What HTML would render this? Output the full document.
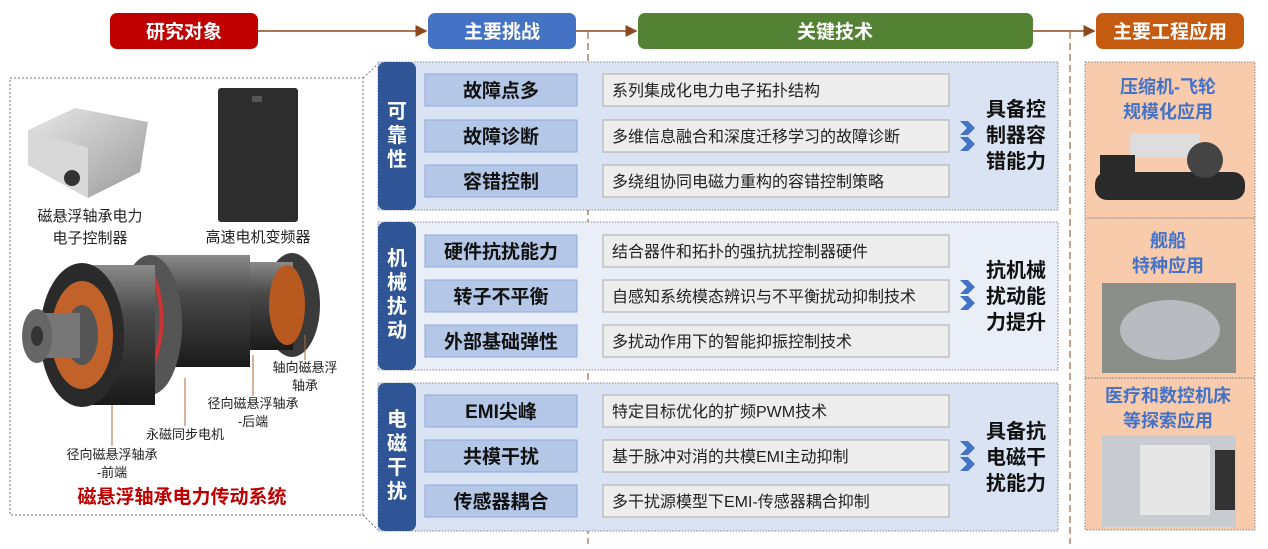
<!DOCTYPE html>
<html><head><meta charset="utf-8"><style>
body{margin:0;background:#fff;}
svg text{font-family:"Liberation Sans","Noto Sans CJK SC",sans-serif;}
</style></head><body>
<svg width="1268" height="544" viewBox="0 0 1268 544" xmlns="http://www.w3.org/2000/svg">
<defs>
<marker id="ar" markerWidth="8" markerHeight="8" refX="7" refY="4" orient="auto"><path d="M0,0 L8,4 L0,8 Z" fill="#8b4a1e"/></marker>
<linearGradient id="motor" x1="0" y1="0" x2="0" y2="1"><stop offset="0" stop-color="#8a8a8a"/><stop offset=".35" stop-color="#4a4a4a"/><stop offset="1" stop-color="#1a1a1a"/></linearGradient>
<linearGradient id="ctl" x1="0" y1="0" x2="1" y2="1"><stop offset="0" stop-color="#e8e8e8"/><stop offset="1" stop-color="#9a9a9a"/></linearGradient>
</defs>
<line x1="258" y1="31" x2="426" y2="31" stroke="#8b4a1e" stroke-width="1.5" marker-end="url(#ar)"/>
<line x1="576" y1="31" x2="636" y2="31" stroke="#8b4a1e" stroke-width="1.5" marker-end="url(#ar)"/>
<line x1="1033" y1="31" x2="1094" y2="31" stroke="#8b4a1e" stroke-width="1.5" marker-end="url(#ar)"/>
<rect x="110" y="13" width="148" height="36" rx="7" fill="#c00000"/>
<text x="184" y="38" fill="#fff" font-size="19" font-weight="bold" text-anchor="middle">研究对象</text>
<rect x="428" y="13" width="148" height="36" rx="7" fill="#4472c4"/>
<text x="502" y="38" fill="#fff" font-size="19" font-weight="bold" text-anchor="middle">主要挑战</text>
<rect x="638" y="13" width="395" height="36" rx="7" fill="#548235"/>
<text x="835" y="38" fill="#fff" font-size="19" font-weight="bold" text-anchor="middle">关键技术</text>
<rect x="1096" y="13" width="148" height="36" rx="7" fill="#c55a11"/>
<text x="1170" y="38" fill="#fff" font-size="19" font-weight="bold" text-anchor="middle">主要工程应用</text>
<line x1="588" y1="32" x2="588" y2="544" stroke="#8b4a1e" stroke-width="1" stroke-dasharray="7,4"/>
<line x1="1070" y1="32" x2="1070" y2="544" stroke="#8b4a1e" stroke-width="1" stroke-dasharray="7,4"/>

<rect x="10" y="78" width="353" height="437" fill="#fff" stroke="#777" stroke-dasharray="2,2"/>
<line x1="363" y1="78" x2="378" y2="64" stroke="#777" stroke-dasharray="2,2"/>
<line x1="363" y1="515" x2="378" y2="530" stroke="#777" stroke-dasharray="2,2"/>
<polygon points="28,130 75,108 148,122 140,172 88,198 28,165" fill="url(#ctl)"/>
<polygon points="28,130 88,148 88,198 28,165" fill="#d8d8d8"/>
<circle cx="72" cy="178" r="8" fill="#333"/>
<rect x="218" y="88" width="80" height="134" rx="3" fill="#2d2d2d"/>
<rect x="252" y="96" width="10" height="6" fill="#555"/>
<text x="90" y="221" font-size="15" text-anchor="middle" fill="#222">磁悬浮轴承电力</text>
<text x="90" y="243" font-size="15" text-anchor="middle" fill="#222">电子控制器</text>
<text x="258" y="242" font-size="15" text-anchor="middle" fill="#222">高速电机变频器</text>
<!-- motor -->
<ellipse cx="292" cy="305" rx="28" ry="52" fill="#3a3a3a"/>
<rect x="225" y="262" width="68" height="88" fill="url(#motor)"/>
<ellipse cx="287" cy="305" rx="18" ry="40" fill="#b85a20"/>
<rect x="150" y="255" width="100" height="112" fill="url(#motor)"/>
<ellipse cx="150" cy="325" rx="32" ry="70" fill="#555"/>
<path d="M140 278 Q162 322 140 378" stroke="#3366dd" stroke-width="8" fill="none"/>
<path d="M152 272 Q172 322 150 372" stroke="#cc3333" stroke-width="4" fill="none"/>
<rect x="80" y="265" width="75" height="140" fill="url(#motor)"/>
<ellipse cx="82" cy="335" rx="42" ry="72" fill="#2a2a2a"/>
<ellipse cx="82" cy="335" rx="31" ry="54" fill="#c0622a"/>
<ellipse cx="82" cy="335" rx="16" ry="30" fill="#555"/>
<rect x="35" y="313" width="45" height="45" fill="#777"/>
<ellipse cx="37" cy="336" rx="15" ry="27" fill="#666"/>
<ellipse cx="37" cy="336" rx="6" ry="10" fill="#333"/>
<g stroke="#b06a3a" stroke-width="1"><line x1="305" y1="335" x2="305" y2="360"/><line x1="253" y1="355" x2="253" y2="396"/><line x1="185" y1="378" x2="185" y2="426"/><line x1="112" y1="405" x2="112" y2="446"/></g>
<g font-size="13" fill="#222" text-anchor="middle">
<text x="305" y="372">轴向磁悬浮</text><text x="305" y="390">轴承</text>
<text x="253" y="408">径向磁悬浮轴承</text><text x="253" y="426">-后端</text>
<text x="185" y="439">永磁同步电机</text>
<text x="112" y="459">径向磁悬浮轴承</text><text x="112" y="477">-前端</text>
</g>
<text x="182" y="503" font-size="19" font-weight="bold" fill="#c00000" text-anchor="middle">磁悬浮轴承电力传动系统</text>

<rect x="378" y="62" width="680" height="148" fill="#dae3f3" stroke="#888" stroke-dasharray="1.5,1.5"/>
<rect x="378" y="222" width="680" height="148" fill="#e9eef7" stroke="#888" stroke-dasharray="1.5,1.5"/>
<rect x="378" y="383" width="680" height="148" fill="#dae3f3" stroke="#888" stroke-dasharray="1.5,1.5"/>
<rect x="378" y="62" width="38" height="148" rx="7" fill="#2f5597"/>
<rect x="378" y="222" width="38" height="148" rx="7" fill="#2f5597"/>
<rect x="378" y="383" width="38" height="148" rx="7" fill="#2f5597"/>
<g font-size="20" font-weight="bold" fill="#fff" text-anchor="middle">
<text x="397" y="118">可</text><text x="397" y="142">靠</text><text x="397" y="166">性</text>
<text x="397" y="265">机</text><text x="397" y="289">械</text><text x="397" y="313">扰</text><text x="397" y="337">动</text>
<text x="397" y="426">电</text><text x="397" y="450">磁</text><text x="397" y="474">干</text><text x="397" y="498">扰</text>
</g>
<g fill="#b4c7e7" stroke="#8faadc">
<rect x="425" y="74" width="152" height="32"/><rect x="425" y="120" width="152" height="32"/><rect x="425" y="165" width="152" height="32"/>
<rect x="425" y="235" width="152" height="32"/><rect x="425" y="280" width="152" height="32"/><rect x="425" y="325" width="152" height="32"/>
<rect x="425" y="395" width="152" height="32"/><rect x="425" y="440" width="152" height="32"/><rect x="425" y="485" width="152" height="32"/>
</g>
<g font-size="19" font-weight="bold" fill="#111" text-anchor="middle">
<text x="501" y="97">故障点多</text><text x="501" y="143">故障诊断</text><text x="501" y="188">容错控制</text>
<text x="501" y="258">硬件抗扰能力</text><text x="501" y="303">转子不平衡</text><text x="501" y="348">外部基础弹性</text>
<text x="501" y="418" font-family="Liberation Serif,Noto Serif CJK SC,serif">EMI尖峰</text><text x="501" y="463">共模干扰</text><text x="501" y="508">传感器耦合</text>
</g>
<g fill="#ededed" stroke="#aaa">
<rect x="603" y="74" width="346" height="32"/><rect x="603" y="120" width="346" height="32"/><rect x="603" y="165" width="346" height="32"/>
<rect x="603" y="235" width="346" height="32"/><rect x="603" y="280" width="346" height="32"/><rect x="603" y="325" width="346" height="32"/>
<rect x="603" y="395" width="346" height="32"/><rect x="603" y="440" width="346" height="32"/><rect x="603" y="485" width="346" height="32"/>
</g>
<g font-size="16" fill="#222">
<text x="612" y="96">系列集成化电力电子拓扑结构</text><text x="612" y="142">多维信息融合和深度迁移学习的故障诊断</text><text x="612" y="187">多绕组协同电磁力重构的容错控制策略</text>
<text x="612" y="257">结合器件和拓扑的强抗扰控制器硬件</text><text x="612" y="302">自感知系统模态辨识与不平衡扰动抑制技术</text><text x="612" y="347">多扰动作用下的智能抑振控制技术</text>
<text x="612" y="417">特定目标优化的扩频PWM技术</text><text x="612" y="462">基于脉冲对消的共模EMI主动抑制</text><text x="612" y="507">多干扰源模型下EMI-传感器耦合抑制</text>
</g>
<g fill="#4472c4">
<path d="M960 121 l8 0 l7 7 l-7 7 l-8 0 l7 -7z"/><path d="M960 137 l8 0 l7 7 l-7 7 l-8 0 l7 -7z"/>
<path d="M960 280 l8 0 l7 7 l-7 7 l-8 0 l7 -7z"/><path d="M960 296 l8 0 l7 7 l-7 7 l-8 0 l7 -7z"/>
<path d="M960 441 l8 0 l7 7 l-7 7 l-8 0 l7 -7z"/><path d="M960 457 l8 0 l7 7 l-7 7 l-8 0 l7 -7z"/>
</g>
<g font-size="20" font-weight="bold" fill="#111" text-anchor="middle">
<text x="1016" y="116">具备控</text><text x="1016" y="142">制器容</text><text x="1016" y="168">错能力</text>
<text x="1016" y="277">抗机械</text><text x="1016" y="303">扰动能</text><text x="1016" y="329">力提升</text>
<text x="1016" y="438">具备抗</text><text x="1016" y="464">电磁干</text><text x="1016" y="490">扰能力</text>
</g>
<rect x="1085" y="62" width="170" height="468" fill="#f8cbad"/>
<g stroke="#888" stroke-dasharray="1.5,1.5" fill="none">
<rect x="1085" y="62" width="170" height="156"/><rect x="1085" y="218" width="170" height="160"/><rect x="1085" y="378" width="170" height="152"/>
</g>
<g font-size="18" font-weight="bold" fill="#4472c4" text-anchor="middle">
<text x="1168" y="93">压缩机-飞轮</text><text x="1168" y="118">规模化应用</text>
<text x="1168" y="247">舰船</text><text x="1168" y="272">特种应用</text>
<text x="1168" y="402">医疗和数控机床</text><text x="1168" y="427">等探索应用</text>
</g>
<rect x="1130" y="133" width="70" height="25" fill="#ddd"/>
<rect x="1100" y="155" width="35" height="20" fill="#2a2a2a"/>
<rect x="1095" y="172" width="150" height="28" rx="12" fill="#2a2a2a"/>
<ellipse cx="1205" cy="160" rx="18" ry="18" fill="#444"/>
<rect x="1102" y="283" width="134" height="90" fill="#8a8f8a"/>
<ellipse cx="1170" cy="330" rx="50" ry="30" fill="#b8bcc0"/>
<rect x="1102" y="435" width="134" height="92" fill="#c8ccd0"/>
<rect x="1140" y="445" width="70" height="70" fill="#e6e6e6"/>
<rect x="1215" y="450" width="20" height="60" fill="#333"/>
</svg>
</body></html>
